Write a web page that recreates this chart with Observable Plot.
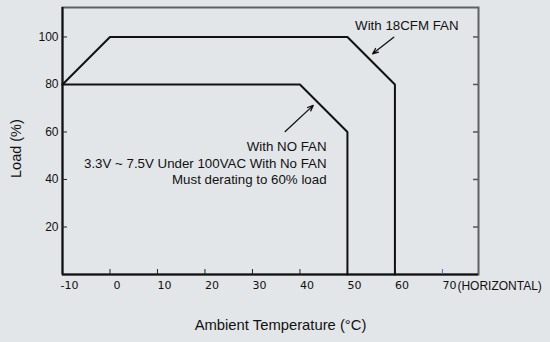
<!DOCTYPE html>
<html><head><meta charset="utf-8">
<script src="https://cdn.jsdelivr.net/npm/d3@7"></script>
<script src="https://cdn.jsdelivr.net/npm/@observablehq/plot@0.6"></script>
<style>
html,body{margin:0;padding:0;background:#e3e6e9;}
</style></head><body><div id="chart"></div>
<script>
// Derating curves
const fanTemp = [-10, 0, 50, 60, 60];
const fanLoad = [80, 100, 100, 80, 0];
const noFanTemp = [-10, 40, 50, 50];
const noFanLoad = [80, 80, 60, 0];
// Axes
const xTicks = [-10, 0, 10, 20, 30, 40, 50, 60, 70];
const xInnerTicks = [0, 10, 20, 30, 40, 50, 60];
const xBlueTicks = [70];
const yTicks = [20, 40, 60, 80, 100];
const xDomain = [-10, 77.6];
const yDomain = [0, 112.4];
const xSuffix = "(HORIZONTAL)";
const xTitle = "Ambient Temperature (°C)";
const yTitle = "Load (%)";
// Annotations
const fanLabel = "With 18CFM FAN";
const fanLabelPos = [73.4, 106.9];
const fanArrow = [59.75, 99.9, 55.3, 92.9];
const noFanLabel = "With NO FAN\n3.3V ~ 7.5V Under 100VAC With No FAN\nMust derating to 60% load";
const noFanLabelPos = [45.6, 56.7];
const noFanArrow = [36.9, 60.2, 42.8, 71.2];

const fan = fanTemp.map((t, i) => ({t, l: fanLoad[i]}));
const noFan = noFanTemp.map((t, i) => ({t, l: noFanLoad[i]}));

const W = 550, H = 342, mL = 62, mR = 72, mT = 7, mB = 68;
const fw = W - mL - mR, fh = H - mT - mB;

const chart = Plot.plot({
  width: W, height: H,
  marginLeft: mL, marginRight: mR, marginTop: mT, marginBottom: mB,
  style: {background: "#e3e6e9", fontFamily: "Liberation Sans, Arial, sans-serif", fontSize: "12px", color: "#111"},
  x: {domain: xDomain},
  y: {domain: yDomain},
  marks: [
    Plot.frame({stroke: "#5f6163", strokeWidth: 2}),
    Plot.ruleX([xDomain[0]], {stroke: "#111", strokeWidth: 2}),
    Plot.ruleY([yDomain[0]], {stroke: "#111", strokeWidth: 2}),
    // inward ticks
    Plot.tickX(xInnerTicks, {x: d => d, stroke: "#222", strokeWidth: 1, insetTop: fh - 5}),
    Plot.tickX(xBlueTicks, {x: d => d, stroke: "#5a62c8", strokeWidth: 1, insetTop: fh - 5}),
    Plot.tickY(yTicks, {y: d => d, stroke: "#222", strokeWidth: 1, insetRight: fw - 5}),
    Plot.tickY(yTicks, {y: d => d, stroke: "#555", strokeWidth: 1.5, insetLeft: fw - 5}),
    // tick labels
    Plot.axisX(xTicks, {tickSize: 0, tickPadding: 7, dx: 7, tickFormat: d => String(d), fontFamily: "DejaVu Sans, sans-serif", fontSize: 11, label: null}),
    Plot.axisY(yTicks, {tickSize: 0, tickPadding: 4, tickFormat: d => String(d), fontSize: 12, label: null}),
    Plot.text(xBlueTicks, {x: d => d, text: () => xSuffix, frameAnchor: "bottom", textAnchor: "start", lineAnchor: "top", dy: 7, dx: 15, fontSize: 12}),
    // axis titles
    Plot.text([xTitle], {text: d => d, frameAnchor: "bottom", dy: 55.5, dx: 10, fontSize: 14.8}),
    Plot.text([yTitle], {text: d => d, frameAnchor: "left", rotate: -90, dx: -46, dy: 37, fontSize: 14.5}),
    // curves
    Plot.line(fan, {x: "t", y: "l", stroke: "#111", strokeWidth: 2, strokeLinejoin: "miter"}),
    Plot.line(noFan, {x: "t", y: "l", stroke: "#111", strokeWidth: 2, strokeLinejoin: "miter"}),
    // annotations
    Plot.text([fanLabel], {x: () => fanLabelPos[0], y: () => fanLabelPos[1], text: d => d, textAnchor: "end", lineAnchor: "top", fontSize: 13.3}),
    Plot.text([noFanLabel], {x: () => noFanLabelPos[0], y: () => noFanLabelPos[1], text: d => d, textAnchor: "end", lineAnchor: "top", lineHeight: 1.22, fontSize: 13.3}),
    Plot.arrow([fanArrow, noFanArrow], {x1: d => d[0], y1: d => d[1], x2: d => d[2], y2: d => d[3], stroke: "#111", strokeWidth: 1.3, headLength: 7, headAngle: 45})
  ]
});
document.getElementById("chart").appendChild(chart);
</script></body></html>
